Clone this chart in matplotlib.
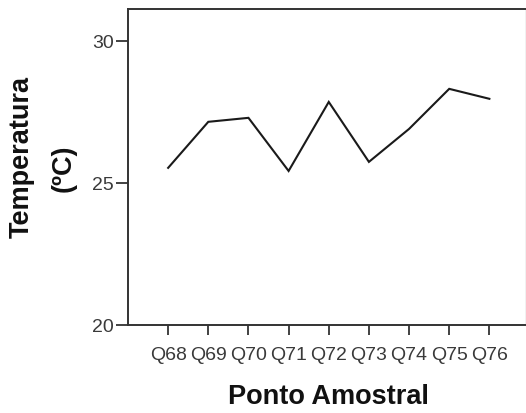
import numpy as np
import matplotlib
matplotlib.use("Agg")
import matplotlib.pyplot as plt

# temperatura média por ponto amostral
pontos = ["Q68", "Q69", "Q70", "Q71", "Q72", "Q73", "Q74", "Q75", "Q76"]
temperatura = [25.53, 27.15, 27.29, 25.42, 27.85, 25.74, 26.9, 28.31, 27.96]

plt.rcParams['font.family'] = ['Liberation Sans', 'DejaVu Sans']

W, H = 526, 414
fig = plt.figure(figsize=(W / 100, H / 100), dpi=100)
ax = fig.add_axes([128 / W, 1 - 326 / H, 397.5 / W, 316 / H])

x = np.arange(len(pontos))
ax.plot(x, temperatura, color='#1a1a1a', linewidth=1.5, solid_joinstyle='miter')

ax.set_xlim(-1, 8.9)
ax.set_ylim(20, 31.12)
ax.set_yticks([20, 25, 30])
ax.set_xticks(x)
ax.set_xticklabels(pontos)

for side in ['left', 'bottom', 'top']:
    ax.spines[side].set_color('#333333')
    ax.spines[side].set_linewidth(1.4)
ax.spines['right'].set_color('#bbbbbb')
ax.spines['right'].set_linewidth(1.0)

ax.tick_params(axis='y', length=9, width=1.3, pad=1, colors='#333333',
               labelsize=14, labelcolor='#3a3a3a')
ax.tick_params(axis='x', length=7, width=1.3, pad=8, colors='#333333',
               labelsize=14, labelcolor='#3a3a3a')

# rótulos dos eixos
fig.text(21.5 / W, 1 - 157 / H, "Temperatura", rotation=90, ha='center', va='center',
         fontsize=19.5, fontweight='bold', color='#111111')
fig.text(64 / W, 1 - 168 / H, "(ºC)", rotation=90, ha='center', va='center',
         fontsize=19.5, fontweight='bold', color='#111111')
fig.text(328 / W, 1 - 397 / H, "Ponto Amostral", ha='center', va='center',
         fontsize=19.5, fontweight='bold', color='#111111')

fig.savefig("out.png", dpi=100)
